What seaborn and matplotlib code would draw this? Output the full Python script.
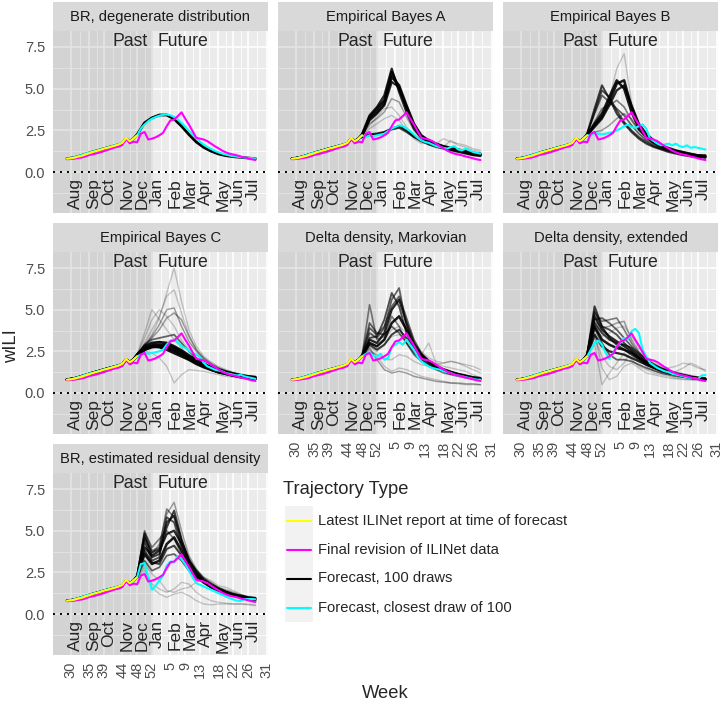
import matplotlib
matplotlib.use("Agg")
import matplotlib.pyplot as plt
from matplotlib.patches import Rectangle
from matplotlib.transforms import offset_copy
import seaborn as sns

# ---- data -----------------------------------------------------------------
# x index 0 = week 29, so the season's week-30 tick sits at 1
tick_pos = [1, 6, 10, 15, 19, 23, 28, 32, 36, 41, 45, 49, 54]
tick_labels = ["30", "35", "39", "44", "48", "52", "5", "9", "13", "18", "22", "26", "31"]
months = ["Aug", "Sep", "Oct", "Nov", "Dec", "Jan", "Feb", "Mar", "Apr", "May", "Jun", "Jul"]

weeks_all = list(range(52))
weeks_latest = list(range(20))
weeks_past = list(range(19))          # shared backcast part of the draws
weeks_fut = list(range(19, 52, 2))    # draws read every other week
forecast_week = 23.2

final_wili = [0.77, 0.78, 0.80, 0.84, 0.87, 0.93, 1.02, 1.06, 1.12, 1.18,
              1.25, 1.33, 1.40, 1.48, 1.52, 1.62, 1.98, 1.72, 1.82, 1.78,
              2.30, 2.40, 1.95, 2.00, 2.08, 2.20, 2.35, 2.75, 3.10, 3.15,
              3.35, 3.58, 3.20, 2.85, 2.45, 2.05, 2.00, 1.95, 1.85, 1.70,
              1.55, 1.42, 1.28, 1.18, 1.10, 1.05, 1.00, 0.93, 0.88, 0.82,
              0.76, 0.72]
latest_wili = [0.80, 0.82, 0.86, 0.92, 0.97, 1.05, 1.12, 1.20, 1.26, 1.32,
               1.40, 1.45, 1.52, 1.58, 1.65, 1.75, 2.05, 1.85, 2.00, 2.20]
draw_past = [0.80, 0.83, 0.87, 0.93, 1.00, 1.07, 1.14, 1.21, 1.27, 1.33,
             1.40, 1.46, 1.52, 1.58, 1.64, 1.72, 2.00, 1.85, 2.00]
cyan_past = [0.78, 0.82, 0.88, 0.95, 1.02, 1.10, 1.17, 1.22, 1.28, 1.34,
             1.41, 1.47, 1.53, 1.60, 1.66, 1.75, 1.98, 1.82, 1.98, 2.20]

# representative draws (weeks_fut) and how many of the 100 draws each stands for
br_deg_draws = [[2.25, 2.95, 3.25, 3.42, 3.42, 3.18, 2.75, 2.25, 1.80, 1.48, 1.25, 1.08, 0.98, 0.92, 0.88, 0.84, 0.80]]
br_deg_counts = [100]
br_deg_cyan = [2.60, 2.85, 3.05, 3.20, 3.30, 3.38, 3.43, 3.45, 3.40, 3.30,
               3.15, 2.95, 2.72, 2.48, 2.24, 2.02, 1.82, 1.64, 1.50, 1.38,
               1.27, 1.18, 1.10, 1.04, 0.99, 0.95, 0.92, 0.89, 0.87, 0.85, 0.83, 0.81]

eb_a_draws = [
    [2.2, 3.3, 3.8, 4.3, 6.0, 5.0, 3.9, 2.8, 2.1, 1.85, 1.65, 1.5, 1.4, 1.3, 1.2, 1.1, 1.05],
    [2.2, 3.2, 3.6, 4.1, 5.7, 5.2, 4.0, 2.9, 2.2, 1.9, 1.7, 1.55, 1.45, 1.35, 1.25, 1.15, 1.1],
    [2.3, 3.4, 3.9, 4.6, 6.2, 4.8, 3.6, 2.6, 2.05, 1.8, 1.6, 1.45, 1.35, 1.25, 1.15, 1.05, 1.0],
    [2.2, 3.1, 3.5, 4.0, 5.4, 5.1, 3.8, 2.8, 2.15, 1.85, 1.65, 1.5, 1.4, 1.3, 1.2, 1.1, 1.05],
    [2.1, 2.25, 2.3, 2.4, 2.6, 2.75, 2.5, 2.15, 1.9, 1.7, 1.55, 1.45, 1.35, 1.25, 1.15, 1.05, 1.0],
    [2.1, 2.2, 2.25, 2.35, 2.55, 2.65, 2.4, 2.1, 1.85, 1.65, 1.5, 1.4, 1.3, 1.2, 1.1, 1.0, 0.95],
    [2.2, 2.8, 3.3, 3.8, 3.9, 3.4, 2.7, 2.1, 1.8, 1.9, 1.7, 2.0, 1.8, 1.7, 1.6, 1.4, 1.3],
    [2.2, 2.6, 2.9, 3.2, 3.4, 3.1, 2.5, 2.0, 1.7, 1.8, 1.6, 1.5, 1.9, 1.6, 1.5, 1.3, 1.2],
    [2.2, 2.9, 3.2, 3.6, 4.4, 4.2, 3.3, 2.5, 2.0, 1.75, 1.55, 1.45, 1.35, 1.25, 1.15, 1.05, 1.0],
]
eb_a_counts = [12, 10, 8, 8, 8, 6, 1, 1, 2]
eb_a_cyan = [2.10, 2.20, 2.15, 2.20, 2.25, 2.30, 2.45, 2.60, 2.70, 2.80,
             2.75, 2.60, 2.45, 2.25, 2.05, 1.90, 1.80, 1.75, 1.65, 1.55,
             1.50, 1.45, 1.40, 1.50, 1.55, 1.35, 1.30, 1.40, 1.30, 1.20, 1.15, 1.10]

eb_b_draws = [
    [2.3, 3.8, 5.2, 4.4, 3.5, 2.9, 2.4, 2.0, 1.7, 1.5, 1.35, 1.2, 1.1, 1.0, 0.95, 0.9, 0.85],
    [2.3, 3.6, 4.9, 4.5, 3.7, 3.0, 2.5, 2.1, 1.8, 1.55, 1.4, 1.25, 1.15, 1.05, 0.95, 0.9, 0.9],
    [2.2, 2.8, 3.3, 4.2, 5.3, 5.5, 3.9, 2.8, 2.2, 1.8, 1.55, 1.4, 1.25, 1.15, 1.05, 1.0, 0.95],
    [2.2, 2.9, 3.5, 4.5, 5.5, 5.0, 3.6, 2.6, 2.1, 1.75, 1.5, 1.35, 1.2, 1.1, 1.0, 0.95, 0.9],
    [2.2, 2.7, 3.2, 4.0, 4.9, 5.2, 4.0, 2.9, 2.3, 1.9, 1.6, 1.45, 1.3, 1.2, 1.1, 1.0, 1.0],
    [2.2, 3.0, 3.8, 4.0, 4.3, 3.9, 3.1, 2.5, 2.1, 1.8, 1.55, 1.4, 1.3, 1.2, 1.1, 1.0, 0.95],
    [2.2, 2.7, 3.3, 4.4, 6.2, 7.1, 4.2, 2.7, 2.1, 1.7, 1.5, 1.35, 1.2, 1.1, 1.0, 0.9, 0.85],
    [2.2, 2.4, 2.5, 2.8, 3.2, 3.5, 3.2, 2.5, 2.0, 1.7, 1.5, 1.35, 1.25, 1.15, 1.05, 1.0, 0.9],
    [2.3, 3.5, 4.6, 4.2, 3.8, 3.4, 2.8, 2.3, 1.9, 1.6, 1.4, 1.3, 1.2, 1.1, 1.0, 0.95, 0.9],
]
eb_b_counts = [6, 5, 10, 10, 8, 3, 1, 2, 4]
eb_b_cyan = [2.20, 2.35, 2.30, 2.25, 2.30, 2.35, 2.40, 2.50, 2.60, 2.75,
             2.85, 2.70, 2.65, 2.75, 2.85, 2.60, 2.00, 1.85, 1.70, 1.60,
             1.65, 1.70, 1.60, 1.70, 1.55, 1.50, 1.60, 1.45, 1.50, 1.45, 1.40, 1.35]

eb_c_draws = [
    [2.3, 2.7, 2.85, 2.9, 2.85, 2.7, 2.45, 2.15, 1.9, 1.65, 1.45, 1.3, 1.2, 1.1, 1.0, 0.95, 0.9],
    [2.2, 2.6, 2.75, 2.8, 2.7, 2.55, 2.3, 2.05, 1.8, 1.6, 1.4, 1.25, 1.15, 1.05, 1.0, 0.9, 0.85],
    [2.3, 2.8, 3.0, 3.05, 3.0, 2.8, 2.55, 2.25, 2.0, 1.75, 1.55, 1.4, 1.25, 1.15, 1.05, 1.0, 0.95],
    [2.2, 2.6, 2.8, 2.75, 2.6, 2.4, 2.2, 2.0, 1.75, 1.55, 1.4, 1.25, 1.15, 1.05, 0.95, 0.9, 0.85],
    [2.3, 2.9, 3.5, 4.5, 6.0, 7.5, 5.5, 3.8, 2.8, 2.2, 1.85, 1.6, 1.4, 1.25, 1.15, 1.05, 1.0],
    [2.2, 3.0, 3.8, 4.6, 5.8, 6.2, 4.8, 3.5, 2.6, 2.1, 1.8, 1.5, 1.35, 1.2, 1.1, 1.0, 0.95],
    [2.3, 3.6, 5.0, 4.4, 3.8, 3.2, 2.7, 2.3, 1.9, 1.6, 1.4, 1.25, 1.15, 1.05, 1.0, 0.95, 0.9],
    [2.2, 2.8, 3.4, 4.1, 5.0, 5.1, 4.0, 3.1, 2.5, 2.0, 1.7, 1.5, 1.3, 1.2, 1.1, 1.0, 0.95],
    [2.2, 2.5, 2.4, 2.1, 1.6, 0.6, 1.1, 1.4, 1.35, 1.3, 1.2, 1.1, 1.0, 0.95, 0.9, 0.85, 0.8],
    [2.3, 3.3, 4.4, 5.0, 4.6, 4.0, 3.2, 2.6, 2.1, 1.8, 1.55, 1.4, 1.25, 1.15, 1.05, 1.0, 0.9],
    [2.2, 2.9, 3.3, 3.8, 4.5, 4.8, 4.4, 3.4, 2.6, 2.1, 1.75, 1.5, 1.35, 1.2, 1.1, 1.0, 0.95],
    [2.3, 2.9, 3.2, 3.3, 3.4, 3.5, 3.0, 2.5, 2.1, 1.8, 1.55, 1.4, 1.3, 1.2, 1.1, 1.0, 0.95],
]
eb_c_counts = [15, 15, 12, 12, 1, 1, 1, 2, 1, 1, 2, 4]
eb_c_cyan = [2.30, 2.40, 2.35, 2.40, 2.45, 2.50, 2.60, 2.90, 3.15, 3.20,
             3.05, 2.80, 2.70, 2.55, 2.40, 2.30, 2.15, 1.80, 1.60, 1.50,
             1.40, 1.35, 1.30, 1.20, 1.15, 1.10, 1.05, 1.10, 1.00, 0.95, 0.90, 0.85]

delta_m_draws = [
    [2.3, 5.3, 3.2, 3.4, 4.6, 4.0, 3.0, 2.3, 1.9, 1.6, 1.4, 1.2, 1.1, 1.0, 0.9, 0.85, 0.8],
    [2.3, 3.6, 3.3, 3.9, 5.6, 6.3, 4.0, 2.8, 2.2, 1.8, 1.55, 1.35, 1.2, 1.1, 1.0, 0.9, 0.85],
    [2.2, 3.2, 3.0, 3.6, 5.0, 5.6, 4.2, 3.0, 2.3, 1.9, 1.6, 1.4, 1.25, 1.15, 1.05, 0.95, 0.9],
    [2.2, 3.0, 2.8, 3.2, 4.2, 4.6, 3.8, 2.9, 2.3, 1.9, 1.6, 1.4, 1.25, 1.1, 1.0, 0.9, 0.85],
    [2.3, 4.2, 3.6, 3.5, 4.0, 3.6, 3.0, 2.4, 2.0, 1.7, 1.45, 1.3, 1.15, 1.05, 0.95, 0.85, 0.8],
    [2.2, 2.6, 2.2, 1.6, 1.3, 1.5, 1.4, 1.2, 1.0, 0.9, 0.8, 0.7, 0.6, 0.55, 0.5, 0.5, 0.5],
    [2.2, 2.8, 2.5, 2.9, 3.4, 3.5, 3.3, 2.8, 2.3, 3.0, 1.8, 1.6, 1.5, 1.4, 1.3, 1.1, 0.9],
    [2.2, 2.5, 2.3, 2.0, 2.0, 2.3, 2.2, 1.9, 1.7, 1.6, 1.7, 1.8, 1.9, 1.8, 1.7, 1.6, 1.4],
    [2.2, 3.3, 3.4, 4.4, 6.0, 5.2, 3.6, 2.6, 2.0, 1.7, 1.45, 1.3, 1.15, 1.05, 0.95, 0.85, 0.8],
    [2.2, 3.9, 3.5, 4.0, 5.2, 5.8, 4.5, 3.2, 2.4, 1.95, 1.65, 1.45, 1.3, 1.15, 1.05, 0.95, 0.9],
    [2.2, 2.9, 2.6, 2.9, 3.5, 3.8, 3.3, 2.7, 2.2, 1.85, 1.55, 1.35, 1.2, 1.1, 1.0, 0.9, 0.85],
    [2.2, 2.7, 2.0, 1.4, 1.2, 1.3, 1.2, 1.0, 0.9, 0.8, 0.7, 0.65, 0.6, 0.6, 0.55, 0.55, 0.5],
    [2.2, 3.0, 2.8, 3.2, 3.8, 4.0, 3.6, 3.0, 2.5, 2.1, 1.9, 1.8, 1.9, 1.8, 1.6, 1.4, 1.2],
]
delta_m_counts = [3, 4, 8, 10, 4, 1, 1, 1, 5, 4, 6, 2, 1]
delta_m_cyan = [2.35, 2.40, 2.25, 2.20, 2.35, 2.00, 2.10, 2.75, 2.90, 3.05,
                2.90, 3.20, 2.90, 2.60, 2.20, 1.90, 1.75, 1.60, 1.50, 1.45,
                1.40, 1.30, 1.25, 1.20, 1.10, 1.05, 1.00, 0.95, 0.90, 0.85, 0.80, 0.80]

delta_e_draws = [
    [2.3, 5.2, 4.0, 3.3, 2.9, 2.6, 2.3, 2.0, 1.7, 1.5, 1.3, 1.2, 1.1, 1.0, 0.9, 0.85, 0.8],
    [2.3, 4.6, 3.8, 3.4, 3.1, 2.8, 2.5, 2.1, 1.8, 1.55, 1.35, 1.2, 1.1, 1.0, 0.9, 0.85, 0.8],
    [2.3, 4.0, 3.2, 2.9, 2.7, 2.6, 2.4, 2.1, 1.85, 1.6, 1.4, 1.25, 1.15, 1.05, 0.95, 0.9, 0.85],
    [2.2, 3.5, 2.8, 2.5, 2.4, 2.3, 2.1, 1.9, 1.7, 1.5, 1.35, 1.2, 1.1, 1.0, 0.9, 0.85, 0.8],
    [2.3, 4.4, 4.5, 4.2, 3.8, 3.3, 2.8, 2.4, 2.0, 1.7, 1.5, 1.35, 1.2, 1.1, 1.0, 0.9, 0.85],
    [2.2, 3.8, 3.4, 3.6, 3.9, 4.0, 3.4, 2.7, 2.2, 1.8, 1.6, 1.5, 1.6, 1.8, 1.7, 1.5, 1.4],
    [2.2, 3.0, 0.5, 1.2, 1.8, 2.4, 2.0, 1.6, 1.4, 1.2, 1.1, 1.0, 0.9, 0.85, 0.8, 0.8, 0.75],
    [2.2, 3.3, 2.2, 1.6, 1.4, 1.8, 2.6, 2.3, 1.6, 1.3, 1.2, 1.1, 1.3, 1.5, 1.8, 1.6, 1.3],
    [2.3, 4.8, 4.3, 4.4, 4.5, 3.8, 3.0, 2.4, 2.0, 1.75, 1.5, 1.35, 1.2, 1.1, 1.0, 0.95, 0.9],
    [2.3, 4.2, 3.6, 3.2, 3.0, 2.9, 2.7, 2.3, 1.9, 1.65, 1.45, 1.3, 1.15, 1.05, 0.95, 0.9, 0.85],
    [2.3, 4.9, 4.0, 3.8, 3.5, 3.0, 2.6, 2.2, 1.85, 1.6, 1.4, 1.25, 1.15, 1.05, 0.95, 0.9, 0.85],
    [2.2, 3.9, 3.0, 2.3, 2.0, 2.0, 1.9, 1.7, 1.5, 1.35, 1.2, 1.1, 1.0, 0.95, 0.9, 0.85, 0.8],
    [2.2, 4.3, 3.9, 4.0, 4.2, 4.3, 3.2, 2.5, 2.0, 1.7, 1.5, 1.35, 1.25, 1.15, 1.05, 0.95, 0.9],
    [2.2, 3.6, 1.5, 0.8, 1.0, 1.6, 1.8, 1.5, 1.2, 1.1, 1.0, 0.9, 0.85, 0.8, 0.8, 0.75, 0.7],
]
delta_e_counts = [6, 8, 10, 8, 4, 1, 1, 1, 3, 6, 5, 4, 2, 1]
delta_e_cyan = [2.60, 3.00, 3.15, 2.90, 2.40, 2.05, 2.40, 2.80, 3.00, 3.30,
                3.20, 3.70, 3.85, 3.60, 2.60, 2.20, 1.80, 1.65, 1.50, 1.40,
                1.30, 1.25, 1.15, 1.10, 1.05, 1.00, 0.93, 0.90, 0.88, 0.85, 1.05, 1.08]

br_est_draws = [
    [2.3, 4.8, 3.4, 3.6, 5.2, 6.2, 4.5, 3.2, 2.5, 2.0, 1.7, 1.45, 1.3, 1.15, 1.05, 0.95, 0.9],
    [2.3, 4.4, 3.2, 3.4, 5.8, 5.5, 4.0, 3.0, 2.4, 2.0, 1.7, 1.45, 1.3, 1.15, 1.0, 0.95, 0.9],
    [2.2, 4.0, 3.5, 3.8, 4.8, 5.0, 4.2, 3.2, 2.6, 2.1, 1.8, 1.55, 1.35, 1.2, 1.1, 1.0, 0.95],
    [2.2, 3.6, 3.0, 3.2, 4.2, 4.6, 3.8, 2.9, 2.3, 1.9, 1.6, 1.4, 1.25, 1.1, 1.0, 0.9, 0.85],
    [2.3, 5.0, 3.8, 4.0, 6.3, 5.8, 4.2, 3.0, 2.3, 1.9, 1.6, 1.4, 1.25, 1.1, 1.0, 0.9, 0.85],
    [2.2, 3.2, 2.6, 2.8, 3.5, 3.6, 3.2, 2.6, 2.2, 1.9, 1.7, 1.5, 1.35, 1.2, 1.1, 1.0, 0.95],
    [2.2, 2.8, 1.6, 1.2, 1.0, 1.2, 1.3, 1.1, 0.8, 0.6, 0.55, 0.6, 0.6, 0.6, 0.6, 0.6, 0.55],
    [2.2, 3.0, 2.4, 2.0, 1.4, 1.3, 1.5, 1.6, 1.9, 2.2, 2.0, 1.7, 1.6, 1.4, 1.2, 1.0, 0.9],
    [2.3, 4.2, 3.6, 4.2, 6.0, 6.7, 5.0, 3.5, 2.7, 2.2, 1.9, 1.6, 1.45, 1.3, 1.15, 1.05, 1.0],
    [2.3, 4.6, 3.7, 3.9, 5.5, 5.9, 4.4, 3.3, 2.5, 2.0, 1.7, 1.5, 1.3, 1.15, 1.05, 0.95, 0.9],
    [2.2, 3.8, 3.1, 3.0, 3.9, 4.1, 3.5, 2.8, 2.3, 1.9, 1.65, 1.45, 1.3, 1.15, 1.05, 0.95, 0.9],
    [2.3, 4.9, 4.0, 4.5, 5.0, 4.5, 3.6, 2.8, 2.2, 1.85, 1.6, 1.4, 1.25, 1.1, 1.0, 0.9, 0.85],
    [2.2, 2.6, 1.8, 1.5, 1.3, 1.5, 1.9, 1.8, 1.3, 1.0, 0.8, 0.7, 0.65, 0.6, 0.6, 0.55, 0.5],
]
br_est_counts = [6, 5, 8, 10, 3, 4, 1, 1, 2, 6, 6, 3, 1]
br_est_cyan = [3.00, 3.05, 2.20, 1.45, 1.70, 2.00, 2.30, 2.90, 3.15, 3.10,
               3.50, 3.30, 3.00, 2.60, 2.20, 1.85, 1.75, 1.65, 1.55, 1.45,
               1.35, 1.25, 1.15, 1.05, 0.95, 0.87, 0.80, 0.78, 0.90, 0.90, 0.90, 0.88]

panel_titles = ["BR, degenerate distribution", "Empirical Bayes A", "Empirical Bayes B",
                "Empirical Bayes C", "Delta density, Markovian", "Delta density, extended",
                "BR, estimated residual density"]
panel_draws = [br_deg_draws, eb_a_draws, eb_b_draws, eb_c_draws,
               delta_m_draws, delta_e_draws, br_est_draws]
panel_counts = [br_deg_counts, eb_a_counts, eb_b_counts, eb_c_counts,
                delta_m_counts, delta_e_counts, br_est_counts]
panel_cyan = [br_deg_cyan, eb_a_cyan, eb_b_cyan, eb_c_cyan,
              delta_m_cyan, delta_e_cyan, br_est_cyan]

legend_labels = ["Latest ILINet report at time of forecast", "Final revision of ILINet data",
                 "Forecast, 100 draws", "Forecast, closest draw of 100"]
legend_colors = ["#FFFF00", "#FF00FF", "#000000", "#00FFFF"]

# ---- plot -----------------------------------------------------------------
sns.set_theme(style="darkgrid", rc={"axes.facecolor": "#EBEBEB", "grid.color": "white"})
plt.rcParams["font.family"] = ["Liberation Sans", "DejaVu Sans"]

W, H = 723, 705
fig = plt.figure(figsize=(W / 100, H / 100), dpi=100)
fig.patch.set_facecolor("white")


def px_axes(x0, y0, w, h):
    # position given in pixels from the top-left corner
    return fig.add_axes([x0 / W, 1 - (y0 + h) / H, w / W, h / H])


col_x = [53, 278, 503]
row_y = [31, 252, 473]
pw, ph, sh = 215, 182, 29
x_minor = [3.5, 8, 12.5, 17, 21, 25.5, 30, 34, 38.5, 43, 47, 51.5]
one_alpha = 0.2

for i, title in enumerate(panel_titles):
    r, c = divmod(i, 3)
    ax = px_axes(col_x[c], row_y[r], pw, ph)
    strip = px_axes(col_x[c], row_y[r] - sh, pw, sh)
    strip.set_facecolor("#D9D9D9")
    strip.set_xticks([])
    strip.set_yticks([])
    strip.grid(False)
    for s in strip.spines.values():
        s.set_visible(False)
    strip.text(0.5, 0.5, title, transform=strip.transAxes, ha="center", va="center",
               fontsize=10.6, color="#1A1A1A")

    ax.axvspan(-10, forecast_week, color="black", alpha=0.1, lw=0, zorder=1)
    ax.axhline(0, color="black", ls=(0, (1, 2.6)), lw=1.4, zorder=2)

    # each representative draw stands for n overlapping draws
    for d, n in zip(panel_draws[i], panel_counts[i]):
        sns.lineplot(x=weeks_past + weeks_fut, y=draw_past + d, ax=ax, color="black",
                     alpha=1 - (1 - one_alpha) ** n, linewidth=0.9 + 0.09 * min(n, 12),
                     estimator=None, legend=False, zorder=3)
    sns.lineplot(x=weeks_all, y=cyan_past + panel_cyan[i], ax=ax, color="#00FFFF",
                 linewidth=1.5, estimator=None, legend=False, zorder=4)
    sns.lineplot(x=weeks_all, y=final_wili, ax=ax, color="#FF00FF",
                 linewidth=1.5, estimator=None, legend=False, zorder=5)
    sns.lineplot(x=weeks_latest, y=latest_wili, ax=ax, color="#FFFF00",
                 linewidth=1.5, estimator=None, legend=False, zorder=6)

    ax.text(22.0, 7.58, "Past", ha="right", va="baseline", fontsize=12.7, zorder=7)
    ax.text(24.4, 7.58, "Future", ha="left", va="baseline", fontsize=12.7, zorder=7)
    month_tr = offset_copy(ax.transData, fig=fig, x=5, y=0, units="dots")
    for pos, m in zip(tick_pos, months):
        ax.text(pos, -0.35, m, rotation=90, ha="center", va="top", fontsize=12.5,
                transform=month_tr, zorder=7)

    ax.set_xlim(-3.77, 54.4)
    ax.set_ylim(-2.46, 8.46)
    ax.set_xticks(tick_pos)
    ax.set_xticklabels(tick_labels)
    ax.set_xticks(x_minor, minor=True)
    ax.set_yticks([0, 2.5, 5, 7.5])
    ax.set_yticklabels(["0.0", "2.5", "5.0", "7.5"])
    ax.set_yticks([-1.25, 1.25, 3.75, 6.25], minor=True)
    ax.set_axisbelow(True)
    ax.grid(which="major", color="white", lw=1.2)
    ax.grid(which="minor", color="white", lw=0.6)
    ax.set_xlabel("")
    ax.set_ylabel("")
    for s in ax.spines.values():
        s.set_visible(False)

    show_x = r == 2 or (r == 1 and c > 0)
    show_y = c == 0
    ax.tick_params(which="minor", length=0)
    ax.tick_params(axis="x", which="major", length=3.1 if show_x else 0, width=0.8,
                   color="#333333", labelbottom=show_x, labelsize=10.5,
                   labelcolor="#4D4D4D", labelrotation=90, pad=1.5)
    ax.tick_params(axis="y", which="major", length=3.1 if show_y else 0, width=0.8,
                   color="#333333", labelleft=show_y, labelsize=10.5,
                   labelcolor="#4D4D4D", pad=2.5)

# overlay in pixel coordinates for axis titles and the legend
ov = fig.add_axes([0, 0, 1, 1])
ov.set_xlim(0, W)
ov.set_ylim(H, 0)
ov.axis("off")

ov.text(12, 346, "wILI", rotation=90, ha="center", va="center", fontsize=13.2)
ov.text(385.5, 693, "Week", ha="center", va="center", fontsize=13.2)

ov.text(283, 490, "Trajectory Type", ha="left", va="center", fontsize=13.2)
ov.add_patch(Rectangle((285, 506), 28, 116, facecolor="#F2F2F2", edgecolor="none"))
for k, (lab, col) in enumerate(zip(legend_labels, legend_colors)):
    yc = 520.5 + 29 * k
    ov.plot([287, 311], [yc, yc], color=col, lw=1.5)
    ov.text(318, yc, lab, ha="left", va="center", fontsize=10.6)

fig.savefig("out.png", dpi=100)
